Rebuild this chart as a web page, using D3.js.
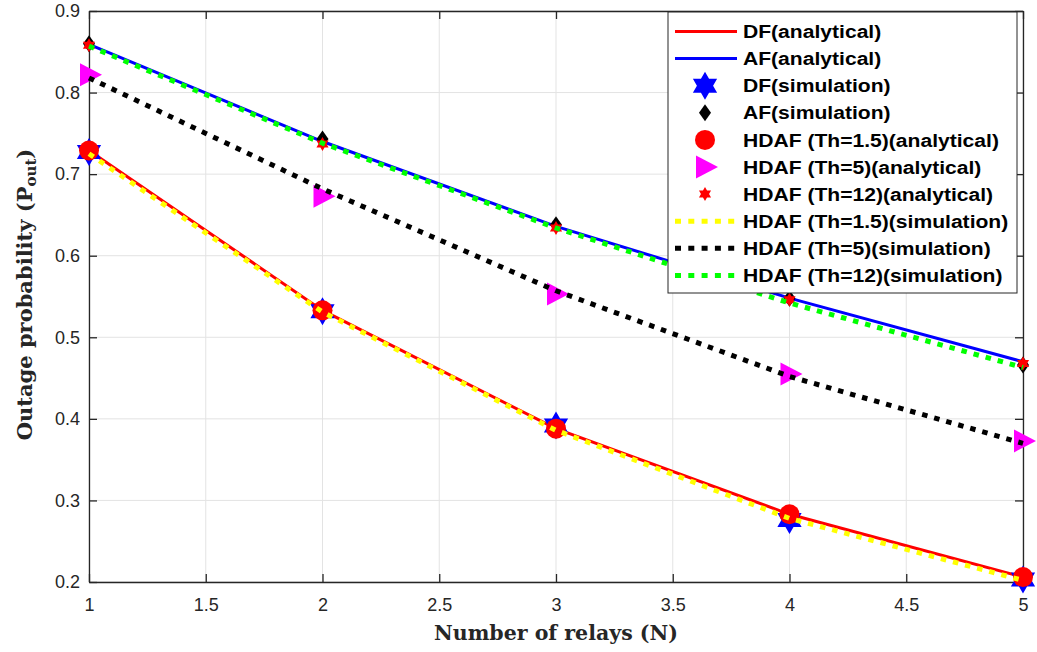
<!DOCTYPE html>
<html><head><meta charset="utf-8">
<script src="https://cdn.jsdelivr.net/npm/d3@7"></script>
<style>body{margin:0;background:#fff}svg{display:block}</style>
</head><body>
<svg id="c" width="1037" height="652"></svg>
<script>
const relays = [1, 2, 3, 4, 5];
const xTicks = [1, 1.5, 2, 2.5, 3, 3.5, 4, 4.5, 5];
const yTicks = [0.2, 0.3, 0.4, 0.5, 0.6, 0.7, 0.8, 0.9];
const dfAnalytical = [0.729, 0.533, 0.388, 0.283, 0.206];
const afAnalytical = [0.859, 0.740, 0.636, 0.548, 0.470];
const dfSimulation = [0.727, 0.532, 0.392, 0.276, 0.203];
const afSimulation = [0.860, 0.743, 0.638, 0.548, 0.466];
const hdaf15Analytical = [0.729, 0.533, 0.388, 0.283, 0.206];
const hdaf5Analytical = [0.822, 0.673, 0.553, 0.455, 0.373];
const hdaf12Analytical = [0.858, 0.737, 0.634, 0.546, 0.468];
const hdaf15Simulation = [0.725, 0.531, 0.386, 0.278, 0.202];
const hdaf5Simulation = [0.818, 0.682, 0.557, 0.452, 0.370];
const hdaf12Simulation = [0.857, 0.738, 0.634, 0.542, 0.463];
const legendLabels = ["DF(analytical)", "AF(analytical)", "DF(simulation)", "AF(simulation)",
  "HDAF (Th=1.5)(analytical)", "HDAF (Th=5)(analytical)", "HDAF (Th=12)(analytical)",
  "HDAF (Th=1.5)(simulation)", "HDAF (Th=5)(simulation)", "HDAF (Th=12)(simulation)"];

const svg = d3.select("#c");
const L = 89, R = 1023, T = 11, B = 582;
const x = d3.scaleLinear().domain([1, 5]).range([L, R]);
const y = d3.scaleLinear().domain([0.2, 0.9]).range([B, T]);
const axisColor = "#262626";

// grid
const g = svg.append("g");
g.selectAll(".vg").data(xTicks).enter().append("line")
  .attr("x1", d => x(d)).attr("x2", d => x(d)).attr("y1", T).attr("y2", B)
  .attr("stroke", "#e3e3e3").attr("stroke-width", 1);
g.selectAll(".hg").data(yTicks).enter().append("line")
  .attr("x1", L).attr("x2", R).attr("y1", d => y(d)).attr("y2", d => y(d))
  .attr("stroke", "#e3e3e3").attr("stroke-width", 1);

// axes (ticks inward)
const fmt = d => String(d);
const axB = svg.append("g").attr("transform", `translate(0,${B})`)
  .call(d3.axisBottom(x).tickValues(xTicks).tickFormat(fmt).tickSizeInner(-8).tickSizeOuter(0).tickPadding(16));
const axT = svg.append("g").attr("transform", `translate(0,${T})`)
  .call(d3.axisTop(x).tickValues(xTicks).tickFormat("").tickSizeInner(-8).tickSizeOuter(0));
const axL = svg.append("g").attr("transform", `translate(${L},0)`)
  .call(d3.axisLeft(y).tickValues(yTicks).tickFormat(fmt).tickSizeInner(-8).tickSizeOuter(0).tickPadding(9));
const axR = svg.append("g").attr("transform", `translate(${R},0)`)
  .call(d3.axisRight(y).tickValues(yTicks).tickFormat("").tickSizeInner(-8).tickSizeOuter(0));
[axB, axT, axL, axR].forEach(a => {
  a.select(".domain").attr("stroke", axisColor).attr("stroke-width", 1.3);
  a.selectAll(".tick line").attr("stroke", axisColor).attr("stroke-width", 1.3);
  a.selectAll(".tick text").attr("fill", axisColor).style("font-family", "Liberation Sans, Arial, sans-serif").style("font-size", "18px");
});

const plot = svg.append("g");
const line = d3.line().x((d, i) => x(relays[i])).y(d => y(d));

function hexagram(R0) {
  const r = R0 / Math.sqrt(3);
  const pts = [];
  for (let i = 0; i < 12; i++) {
    const a = -Math.PI / 2 + i * Math.PI / 6;
    const rr = i % 2 === 0 ? R0 : r;
    pts.push([rr * Math.cos(a), rr * Math.sin(a)]);
  }
  return "M" + pts.map(p => p.join(",")).join("L") + "Z";
}
const diamondPath = (w, h) => `M0,${-h}L${w},0L0,${h}L${-w},0Z`;
const circlePath = r => `M${-r},0A${r},${r} 0 1,0 ${r},0A${r},${r} 0 1,0 ${-r},0Z`;

const series = [
  {data: dfAnalytical, type: "line", color: "#ff0000", width: 3},
  {data: afAnalytical, type: "line", color: "#0000ff", width: 3},
  {data: dfSimulation, type: "marker", path: hexagram(14), color: "#0000ff"},
  {data: afSimulation, type: "marker", path: diamondPath(6, 8.5), color: "#000000"},
  {data: hdaf15Analytical, type: "marker", path: circlePath(10), color: "#ff0000"},
  {data: hdaf5Analytical, type: "marker", path: `M-9,-11.5L13,0L-9,11.5Z`, color: "#ff00ff"},
  {data: hdaf12Analytical, type: "marker", path: hexagram(7), color: "#ff0000"},
  {data: hdaf15Simulation, type: "dot", color: "#ffff00", width: 5},
  {data: hdaf5Simulation, type: "dot", color: "#000000", width: 5},
  {data: hdaf12Simulation, type: "dot", color: "#00ff00", width: 5}
];

series.forEach(s => {
  if (s.type === "line" || s.type === "dot") {
    plot.append("path").attr("d", line(s.data)).attr("fill", "none")
      .attr("stroke", s.color).attr("stroke-width", s.width)
      .attr("stroke-dasharray", s.type === "dot" ? "5.5,7" : null);
  } else {
    plot.selectAll(null).data(s.data).enter().append("path")
      .attr("d", s.path).attr("fill", s.color)
      .attr("transform", (d, i) => `translate(${x(relays[i])},${y(d)})`);
  }
});

// legend
const lg = svg.append("g");
const lx = 668, ly = 12, lw = 349, lh = 281;
lg.append("rect").attr("x", lx).attr("y", ly).attr("width", lw).attr("height", lh)
  .attr("fill", "#fff").attr("stroke", "#262626").attr("stroke-width", 1);
const rowY0 = 31.5, rowH = 27.1;
series.forEach((s, i) => {
  const cy = rowY0 + i * rowH;
  if (s.type === "line" || s.type === "dot") {
    lg.append("line").attr("x1", 675).attr("x2", 737).attr("y1", cy).attr("y2", cy)
      .attr("stroke", s.color).attr("stroke-width", s.width)
      .attr("stroke-dasharray", s.type === "dot" ? "6,7.3" : null);
  } else {
    lg.append("path").attr("d", s.path).attr("fill", s.color)
      .attr("transform", `translate(705,${cy})`);
  }
  lg.append("text").attr("transform", `translate(743,${cy}) scale(1.14,1)`).attr("dy", "0.36em")
    .style("font-family", "Liberation Sans, Arial, sans-serif").style("font-weight", "bold")
    .style("font-size", "18.5px").attr("fill", "#000").text(legendLabels[i]);
});

// axis labels
svg.append("text").attr("x", (L + R) / 2).attr("y", 640).attr("text-anchor", "middle")
  .style("font-family", "DejaVu Serif, serif").style("font-weight", "bold")
  .style("font-size", "20.5px").attr("fill", axisColor).text("Number of relays (N)");
const yl = svg.append("text").attr("transform", `translate(32,${(T + B) / 2 - 2}) rotate(-90)`)
  .attr("text-anchor", "middle")
  .style("font-family", "DejaVu Serif, serif").style("font-weight", "bold")
  .style("font-size", "21px").attr("fill", axisColor);
yl.append("tspan").text("Outage probability (P");
yl.append("tspan").attr("baseline-shift", "-28%").style("font-size", "15px").text("out");
yl.append("tspan").text(")");
</script>
</body></html>
